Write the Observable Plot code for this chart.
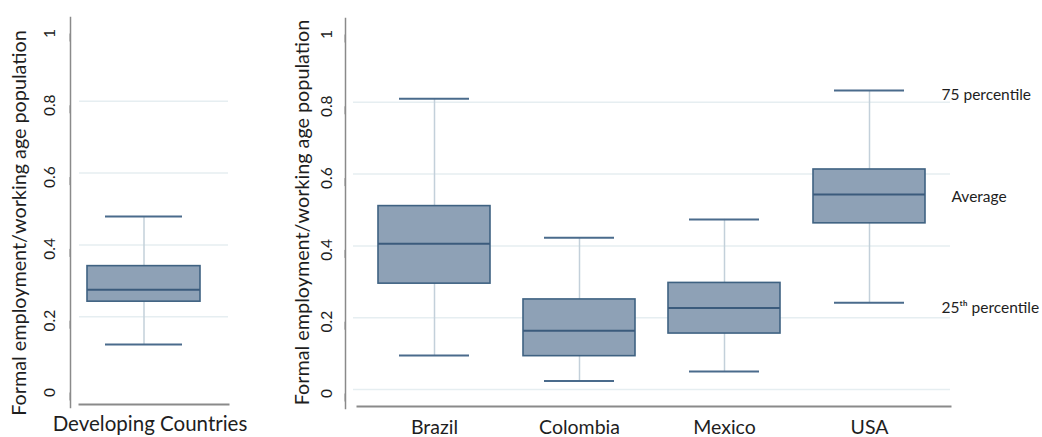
<!DOCTYPE html>
<html>
<head>
<meta charset="utf-8">
<script src="https://cdn.jsdelivr.net/npm/d3@7"></script>
<script src="https://cdn.jsdelivr.net/npm/@observablehq/plot@0.6"></script>
<style>
  html, body { margin: 0; padding: 0; background: #fff; }
  #wrap { position: relative; width: 1042px; height: 437px; overflow: hidden; background: #fff; }
  #wrap svg { position: absolute; top: 0; }
</style>
</head>
<body>
<div id="wrap"></div>
<script>
// ---- data ----
const leftCategories = ["Developing Countries"];
const leftLow    = [0.134];
const leftQ1     = [0.253];
const leftMedian = [0.286];
const leftQ3     = [0.352];
const leftHigh   = [0.490];

const rightCategories = ["Brazil", "Colombia", "Mexico", "USA"];
const rightLow    = [0.106, 0.035, 0.061, 0.253];
const rightQ1     = [0.306, 0.104, 0.167, 0.474];
const rightMedian = [0.417, 0.175, 0.238, 0.554];
const rightQ3     = [0.522, 0.262, 0.308, 0.624];
const rightHigh   = [0.821, 0.434, 0.485, 0.844];

const yTicks = [0, 0.2, 0.4, 0.6, 0.8, 1];
const leftGrid = [0.2, 0.4, 0.6, 0.8];
const rightGrid = [0, 0.2, 0.4, 0.6, 0.8];
const yLabel = "Formal employment/working age population";

const annotLabels = ["75 percentile", "Average", "25\u1D57\u02B0 percentile"];
const annotValues = [0.83, 0.548, 0.239];

// ---- build tables ----
function table(cats, lo, q1, med, q3, hi) {
  return cats.map((c, i) => ({cat: c, lo: lo[i], q1: q1[i], med: med[i], q3: q3[i], hi: hi[i]}));
}
const leftData = table(leftCategories, leftLow, leftQ1, leftMedian, leftQ3, leftHigh);
const rightData = table(rightCategories, rightLow, rightQ1, rightMedian, rightQ3, rightHigh);
const annot = annotLabels.map((l, i) => ({label: l, v: annotValues[i]}));

const C = {
  fill: "#8ea1b6",
  box: "#3f6282",
  median: "#3b5b7c",
  cap: "#4a6b8c",
  whisker: "#c3d0da",
  grid: "#e6eef1",
  axis: "#8a8a8a",
  text: "#1e1e1e"
};
const font = "Lato, 'Noto Sans', sans-serif";

function boxMarks(data, capInset) {
  return [
    Plot.ruleX(data, {x: "cat", y1: "lo", y2: "hi", stroke: C.whisker, strokeWidth: 1.5}),
    Plot.barY(data, {x: "cat", y1: "q1", y2: "q3", fill: C.fill, stroke: C.box, strokeWidth: 1.6}),
    Plot.tickY(data, {x: "cat", y: "med", stroke: C.median, strokeWidth: 2}),
    Plot.tickY(data, {x: "cat", y: "hi", stroke: C.cap, strokeWidth: 2, insetLeft: capInset, insetRight: capInset}),
    Plot.tickY(data, {x: "cat", y: "lo", stroke: C.cap, strokeWidth: 2, insetLeft: capInset, insetRight: capInset})
  ];
}

function yAxis(tickPadding) {
  return Plot.axisY({
    ticks: yTicks, tickFormat: d => String(d), tickSize: 8, tickPadding,
    rotate: -90, textAnchor: "middle", fontSize: 15.5, label: null, stroke: C.axis, fill: C.text
  });
}

// ---- left panel ----
const left = Plot.plot({
  width: 250, height: 437,
  marginLeft: 70, marginTop: 17, marginBottom: 33, marginRight: 22,
  style: {fontFamily: font, color: C.text, background: "transparent"},
  x: {domain: leftCategories, range: [87, 200], padding: 0, axis: null},
  y: {domain: [0, 1], range: [392, 33], axis: null},
  marks: [
    Plot.ruleY(leftGrid, {stroke: C.grid, strokeWidth: 1.5, insetLeft: 9, dy: -4}),
    Plot.frame({anchor: "left", stroke: C.axis, strokeWidth: 1.5, insetBottom: -3}),
    Plot.frame({anchor: "bottom", stroke: C.axis, strokeWidth: 2, insetLeft: 9}),
    ...boxMarks(leftData, 18),
    yAxis(12),
    Plot.axisX({tickSize: 0, tickPadding: 12, fontSize: 20.5, label: null, fill: C.text, dx: 6}),
    Plot.text([yLabel], {text: d => d, frameAnchor: "left", textAnchor: "middle", lineAnchor: "middle", rotate: -90, dx: -51, dy: 12, fontSize: 19.8, fill: C.text})
  ]
});
left.style.left = "0px";

// ---- right panel ----
const right = Plot.plot({
  width: 792, height: 437,
  marginLeft: 95, marginTop: 18, marginBottom: 31, marginRight: 92,
  style: {fontFamily: font, color: C.text, background: "transparent", overflow: "visible"},
  x: {domain: rightCategories, range: [93.5, 709], padding: 0.23, axis: null},
  y: {domain: [0, 1], range: [393, 34], axis: null},
  marks: [
    Plot.ruleY(rightGrid, {stroke: C.grid, strokeWidth: 1.5, insetLeft: 8, dy: -4}),
    Plot.frame({anchor: "left", stroke: C.axis, strokeWidth: 1.5, insetBottom: -2}),
    Plot.frame({anchor: "bottom", stroke: C.axis, strokeWidth: 2, insetLeft: 12}),
    ...boxMarks(rightData, 21),
    yAxis(10),
    Plot.axisX({tickSize: 0, tickPadding: 14, fontSize: 19.5, label: null, fill: C.text}),
    Plot.text([yLabel], {text: d => d, frameAnchor: "left", textAnchor: "middle", lineAnchor: "middle", rotate: -90, dx: -43, dy: 0, fontSize: 19.8, fill: C.text}),
    Plot.text(annot.filter(d => d.label !== "Average"), {x: () => "USA", y: "v", text: "label", textAnchor: "start", dx: 72, fontSize: 15.5, fill: C.text, fontFamily: "Lato, 'Open Sans', sans-serif"}),
    Plot.text(annot.filter(d => d.label === "Average"), {x: () => "USA", y: "v", text: "label", textAnchor: "start", dx: 82, fontSize: 15.5, fill: C.text, fontFamily: "Lato, 'Open Sans', sans-serif"})
  ]
});
right.style.left = "250px";

const wrap = document.getElementById("wrap");
wrap.appendChild(left);
wrap.appendChild(right);
</script>
</body>
</html>
